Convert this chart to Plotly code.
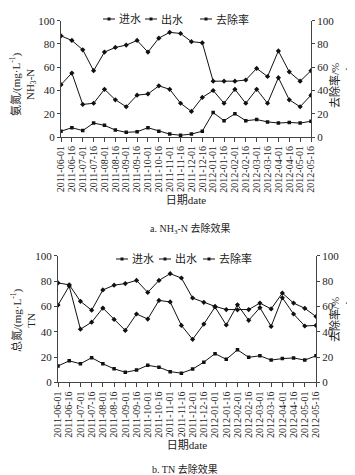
import plotly.graph_objects as go

dates = ["2011-06-01", "2011-06-16", "2011-07-01", "2011-07-16", "2011-08-01", "2011-08-16",
         "2011-09-01", "2011-09-16", "2011-10-01", "2011-10-16", "2011-11-01", "2011-11-16",
         "2011-12-01", "2011-12-16", "2012-01-01", "2012-01-16", "2012-02-01", "2012-02-16",
         "2012-03-01", "2012-03-16", "2012-04-01", "2012-04-16", "2012-05-01", "2012-05-16"]

# a. NH3-N
nh3_in = [45, 55, 28, 29, 41, 32, 26, 36, 37, 44, 41, 29, 22, 34, 40, 29, 41, 29, 41, 29, 51, 32, 26, 36]
nh3_out = [5, 8, 5.5, 12, 10, 6, 4, 4.5, 8, 5, 2.5, 1.5, 2.5, 5, 21, 14, 20, 14, 15, 13, 12, 12.5, 12, 13.5]
nh3_rm = [87, 83, 75, 57, 73, 77, 79, 83, 73, 85, 90, 89, 82, 81, 48, 48, 48, 49, 59, 52, 74, 56, 48, 57]

# b. TN
tn_in = [61, 76, 42, 47.5, 58.7, 49.7, 41, 54, 50, 64.7, 63.5, 45, 34, 46, 59.5, 45.3, 61.3, 49, 59, 44.2, 66.8, 54, 44.5, 45]
tn_out = [13, 17, 14.7, 19.5, 14.7, 10.7, 8, 9.7, 13.5, 12, 8.5, 7.3, 10.5, 16, 22.7, 18.2, 25.7, 19.8, 21, 17.6, 18.8, 19.3, 17.6, 21]
tn_rm = [78.5, 77, 64, 57, 73, 76.7, 78, 80.5, 71, 80.5, 85.8, 82.4, 66.6, 63.2, 60, 57.5, 57.3, 57.5, 62.6, 58, 70.5, 62.6, 58.5, 52]

series_names = ["进水", "出水", "去除率"]
y_ticks = [0, 20, 40, 60, 80, 100]

W, H = 355, 475
FONT = "Liberation Serif, Times New Roman, Noto Sans CJK SC, serif"
LC = "#111111"
AX = "#444444"
TC = "#222222"

fig = go.Figure()

symbols = ["diamond", "square", "diamond"]
sizes = [4, 3.5, 4]


def add_set(vals, xa, ya_left, ya_right):
    for i, (name, v) in enumerate(zip(series_names, vals)):
        fig.add_trace(go.Scatter(
            x=dates, y=v, name=name, mode="lines+markers",
            xaxis=xa, yaxis=(ya_right if i == 2 else ya_left),
            line=dict(color=LC, width=1),
            marker=dict(symbol=symbols[i], size=sizes[i], color=LC),
            showlegend=False,
        ))


add_set([nh3_in, nh3_out, nh3_rm], "x", "y", "y2")
add_set([tn_in, tn_out, tn_rm], "x2", "y3", "y4")


def px_x(p):
    return p / W


def px_y(p):
    return 1 - p / H


xcommon = dict(type="category", range=[0, 23], tickmode="linear", tick0=0, dtick=1,
               showgrid=False, zeroline=False,
               showline=True, linecolor=AX, linewidth=1, ticks="outside", ticklen=4,
               tickcolor=AX, tickangle=-90, tickfont=dict(size=10, color=TC, family=FONT),
               title=dict(text="日期date", font=dict(size=11, color=TC, family=FONT), standoff=4))
ycommon = dict(range=[0, 100], tickvals=y_ticks, showgrid=False, zeroline=False,
               showline=True, linecolor=AX, linewidth=1, ticks="outside", ticklen=3,
               tickcolor=AX, tickfont=dict(size=11, color=TC, family=FONT))

top_dom = [px_y(129), px_y(12.7)]
bot_dom = [px_y(374.4), px_y(247.7)]

annotations = [
    dict(text="a. NH<sub>3</sub>-N 去除效果", x=px_x(182), y=px_y(221)),
    dict(text="b. TN 去除效果", x=px_x(177), y=px_y(461)),
    # axis titles
    dict(text="氨氮/(mg·L<sup>-1</sup>)<br>NH<sub>3</sub>-N", x=px_x(15), y=px_y(76), textangle=-90),
    dict(text="去除率/%<br>removal", x=px_x(333), y=px_y(78), textangle=-90),
    dict(text="总氮/(mg·L<sup>-1</sup>)<br>TN", x=px_x(15), y=px_y(312), textangle=-90),
    dict(text="去除率/%<br>removal", x=px_x(333), y=px_y(312), textangle=-90),
]
for a in annotations:
    a.update(xref="paper", yref="paper", showarrow=False, xanchor="center", yanchor="middle",
             font=dict(size=11 if "textangle" in a else 10, family=FONT, color=TC))

# custom compact legends (short line sample + marker, as in the reference)
shapes = []
legend_rows = [
    (11, [95, 137, 192]),
    (251, [108, 151, 195]),
]
for ly, xs in legend_rows:
    for i, (name, lx) in enumerate(zip(series_names, xs)):
        shapes.append(dict(type="line", xref="paper", yref="paper",
                           x0=px_x(lx), x1=px_x(lx + 12), y0=px_y(ly), y1=px_y(ly),
                           line=dict(color=LC, width=1)))
        shapes.append(dict(type="rect", xref="paper", yref="paper",
                           x0=px_x(lx + 4.5), x1=px_x(lx + 7.5), y0=px_y(ly + 1.5), y1=px_y(ly - 1.5),
                           line=dict(width=0), fillcolor=LC))
        annotations.append(dict(text=name, x=px_x(lx + 14), y=px_y(ly), xref="paper", yref="paper",
                                xanchor="left", yanchor="middle", showarrow=False,
                                font=dict(size=11, family=FONT, color=TC)))

fig.update_layout(
    width=W, height=H,
    margin=dict(l=0, r=0, t=0, b=0, autoexpand=False),
    paper_bgcolor="white", plot_bgcolor="white",
    font=dict(family=FONT, color=TC),
    xaxis=dict(domain=[px_x(53), px_x(303)], anchor="y", **xcommon),
    yaxis=dict(domain=top_dom, anchor="x", **ycommon),
    yaxis2=dict(overlaying="y", side="right", anchor="x", **ycommon),
    xaxis2=dict(domain=[px_x(50), px_x(308)], anchor="y3", **xcommon),
    yaxis3=dict(domain=bot_dom, anchor="x2", **ycommon),
    yaxis4=dict(overlaying="y3", side="right", anchor="x2", **ycommon),
    showlegend=False,
    annotations=annotations,
    shapes=shapes,
)

fig.write_html("out.html")
